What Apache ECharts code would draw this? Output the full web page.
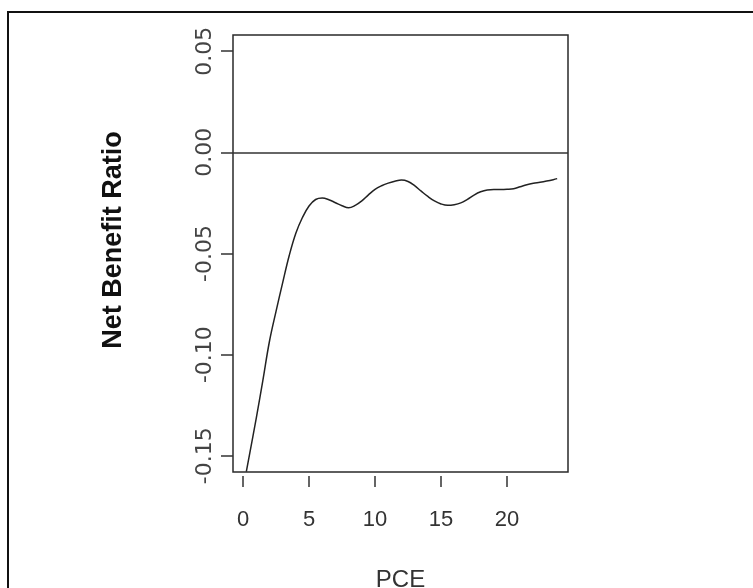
<!DOCTYPE html>
<html>
<head>
<meta charset="utf-8">
<script src="https://cdn.jsdelivr.net/npm/echarts@6/dist/echarts.min.js"></script>
<style>
html,body{margin:0;padding:0;background:#fff;}
#chart{width:753px;height:588px;}
</style>
</head>
<body>
<div id="chart"></div>
<script>
// Data
var pceValues = [0.25, 1.0, 1.5, 2.0, 2.5, 3.0, 3.5, 4.0, 4.5, 5.0, 5.5, 6.0, 6.5, 7.0, 7.5, 8.0, 8.5, 9.0, 9.5, 10.0, 10.5, 11.0, 11.5, 12.0, 12.5, 13.0, 13.5, 14.0, 14.5, 15.0, 15.5, 16.0, 16.5, 17.0, 17.5, 18.0, 18.5, 19.0, 19.5, 20.0, 20.5, 21.0, 21.5, 22.0, 22.5, 23.0, 23.5, 23.8];
var netBenefit = [-0.1578, -0.1315, -0.1128, -0.0935, -0.0786, -0.0645, -0.0510, -0.0400, -0.0322, -0.0265, -0.0233, -0.0226, -0.0234, -0.0249, -0.0264, -0.0274, -0.0262, -0.0240, -0.0210, -0.0183, -0.0165, -0.0152, -0.0143, -0.0137, -0.0144, -0.0165, -0.0192, -0.0218, -0.0240, -0.0255, -0.0262, -0.0259, -0.0250, -0.0232, -0.0211, -0.0195, -0.0186, -0.0184, -0.0184, -0.0183, -0.0180, -0.0170, -0.0160, -0.0153, -0.0148, -0.0142, -0.0135, -0.0130];
var xTicks = [0, 5, 10, 15, 20];
var yTicks = [-0.15, -0.10, -0.05, 0.00, 0.05];
var xTitle = 'PCE';
var yTitle = 'Net Benefit Ratio';

var seriesData = pceValues.map(function (x, i) { return [x, netBenefit[i]]; });

var chart = echarts.init(document.getElementById('chart'), null, {renderer: 'canvas'});
chart.setOption({
  animation: false,
  backgroundColor: '#ffffff',
  grid: {
    left: 233, right: 185, top: 35, bottom: 116,
    outerBoundsMode: 'none', containLabel: false,
    show: true, borderColor: '#2a2a2a', borderWidth: 1.5, backgroundColor: 'transparent'
  },
  graphic: [{
    type: 'rect',
    shape: {x: 8, y: 12, width: 800, height: 700},
    style: {fill: 'none', stroke: '#111', lineWidth: 2}
  }],
  xAxis: {
    type: 'value',
    min: -0.76, max: 24.62,
    offset: 4,
    axisLine: {show: false, onZero: false},
    axisTick: {show: true, length: 11, customValues: xTicks, lineStyle: {color: '#333', width: 1.5}},
    axisLabel: {
      customValues: xTicks, margin: 33,
      fontFamily: 'Liberation Sans, Arial, sans-serif', fontSize: 22, color: '#333'
    },
    splitLine: {show: false},
    name: xTitle, nameLocation: 'middle', nameGap: 92,
    nameTextStyle: {fontFamily: 'Liberation Sans, Arial, sans-serif', fontSize: 24, color: '#333'}
  },
  yAxis: {
    type: 'value',
    min: -0.158, max: 0.058,
    axisLine: {show: false, onZero: false},
    axisTick: {show: true, length: 12, customValues: yTicks, lineStyle: {color: '#333', width: 1.5}},
    axisLabel: {
      customValues: yTicks, rotate: 90, margin: 17,
      formatter: function (v) { return v.toFixed(2); },
      fontFamily: 'DejaVu Sans, sans-serif', fontSize: 22, color: '#444'
    },
    splitLine: {show: false},
    name: yTitle, nameLocation: 'middle', nameRotate: 90, nameGap: 106,
    nameTextStyle: {fontFamily: 'Liberation Sans, Arial, sans-serif', fontSize: 27, fontWeight: 'bold', color: '#111', padding: [0, 0, 0, 27]}
  },
  series: [{
    type: 'line',
    data: seriesData,
    smooth: 0.4,
    showSymbol: false,
    clip: true,
    lineStyle: {color: '#222', width: 1.5},
    markLine: {
      silent: true,
      symbol: ['none', 'none'],
      label: {show: false},
      lineStyle: {color: '#333', width: 1.5, type: 'solid'},
      data: [{yAxis: 0}]
    }
  }]
});
</script>
</body>
</html>
